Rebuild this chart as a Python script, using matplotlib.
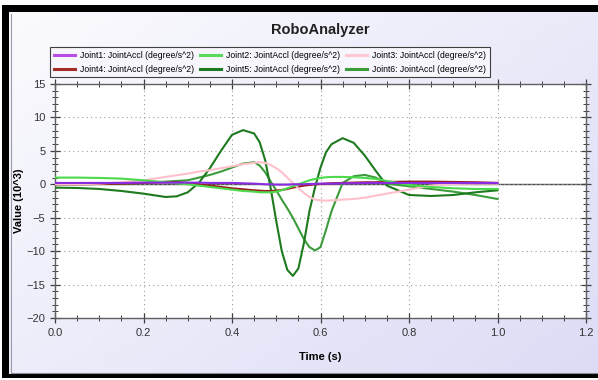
import numpy as np
import matplotlib
matplotlib.use('Agg')
import matplotlib.pyplot as plt
from matplotlib.lines import Line2D
from matplotlib.patches import Rectangle
from matplotlib.ticker import MultipleLocator, FormatStrFormatter

plt.rcParams['font.family'] = ['Liberation Sans Narrow', 'Liberation Sans', 'DejaVu Sans']

# time samples (s)
time = [0.0, 0.05, 0.1, 0.15, 0.2, 0.25, 0.275, 0.3,
        0.325, 0.35, 0.375, 0.4, 0.425, 0.45,
        0.4625, 0.475, 0.4875, 0.5, 0.5125, 0.525, 0.5375, 0.55,
        0.5625, 0.575, 0.5875, 0.6, 0.6125, 0.625,
        0.65, 0.675, 0.7, 0.725, 0.75,
        0.8, 0.85, 0.9, 0.95, 1.0]

# joint accelerations (10^3 degree/s^2)
joint1 = [0.2, 0.2, 0.2, 0.2, 0.25, 0.25, 0.25, 0.25,
          0.25, 0.2, 0.2, 0.2, 0.15, 0.1,
          0.05, 0.0, 0.0, -0.05, -0.05, -0.05, 0.0, 0.0,
          0.0, 0.05, 0.05, 0.1, 0.1, 0.1,
          0.15, 0.15, 0.2, 0.2, 0.2,
          0.2, 0.2, 0.2, 0.2, 0.2]
joint2 = [1.0, 1.0, 0.95, 0.85, 0.6, 0.3, 0.15, 0.0,
          -0.2, -0.4, -0.6, -0.8, -1.0, -1.1,
          -1.2, -1.2, -1.2, -1.1, -0.9, -0.6, -0.3, 0.0,
          0.3, 0.6, 0.8, 0.95, 1.05, 1.1,
          1.1, 1.05, 0.95, 0.8, 0.5,
          -0.1, -0.4, -0.6, -0.7, -0.7]
joint3 = [0.0, 0.0, 0.1, 0.3, 0.6, 1.1, 1.35, 1.6,
          1.9, 2.1, 2.4, 2.7, 3.0, 3.2,
          3.3, 3.2, 2.9, 2.4, 1.8, 1.0, 0.2, -0.6,
          -1.3, -1.9, -2.3, -2.4, -2.45, -2.4,
          -2.3, -2.2, -2.0, -1.7, -1.4,
          -0.8, -0.2, 0.05, 0.1, 0.1]
joint4 = [0.0, 0.0, 0.05, 0.1, 0.2, 0.3, 0.3, 0.2,
          0.0, -0.2, -0.4, -0.6, -0.75, -0.9,
          -0.95, -1.0, -1.0, -0.95, -0.85, -0.7, -0.5, -0.35,
          -0.2, -0.1, 0.0, 0.05, 0.1, 0.15,
          0.2, 0.25, 0.3, 0.3, 0.35,
          0.4, 0.4, 0.35, 0.3, 0.2]
joint5 = [-0.5, -0.55, -0.7, -1.0, -1.4, -1.9, -1.8, -1.2,
          0.2, 2.4, 5.0, 7.4, 8.1, 7.6,
          6.3, 3.6, -0.6, -5.5, -10.0, -12.8, -13.7, -12.6,
          -8.8, -4.0, -0.5, 2.5, 4.8, 6.0,
          6.9, 6.2, 4.3, 2.0, -0.2,
          -1.6, -1.75, -1.6, -1.2, -0.9]
joint6 = [0.0, 0.0, 0.05, 0.1, 0.2, 0.4, 0.5, 0.6,
          1.0, 1.4, 1.9, 2.5, 3.1, 3.3,
          2.8, 1.8, 0.4, -0.9, -2.3, -3.6, -5.0, -6.6,
          -8.2, -9.4, -9.9, -9.4, -6.8, -4.0,
          0.2, 1.2, 1.4, 1.0, 0.1,
          -0.3, -0.7, -1.1, -1.6, -2.2]

series = [joint1, joint2, joint3, joint4, joint5, joint6]
labels = ['Joint%d: JointAccl (degree/s^2)' % (i + 1) for i in range(6)]
colors = ['#8a2be2', '#4cd94c', '#ffc0cb', '#9b1b1b', '#1e7a1e', '#3c9c3c']
legend_colors = ['#b84ee6', '#5ada5a', '#ffc8d2', '#a52a2a', '#1e7a1e', '#3c9c3c']

W, H = 598, 380
fig = plt.figure(figsize=(W / 100, H / 100), dpi=100)
fig.patch.set_facecolor('white')

# gradient background panel
bg = fig.add_axes([9 / W, 6 / H, (W - 9) / W, (H - 12 - 6) / H])
gx, gy = np.meshgrid(np.linspace(0, 1, 64), np.linspace(0, 1, 64))
grad = 0.55 * gx + 0.45 * gy
bg.imshow(grad, cmap=matplotlib.colors.LinearSegmentedColormap.from_list(
    'lav', ['#fbfbfe', '#dcdcf6']), aspect='auto', extent=[0, 1, 0, 1])
bg.set_axis_off()

# black frame
for x0, y0, w, h in [(2, 5, W - 2, 7), (2, 5, 7, 373), (2, 374, W - 2, 4)]:
    fig.add_artist(Rectangle((x0 / W, 1 - (y0 + h) / H), w / W, h / H,
                             transform=fig.transFigure, color='black', lw=0))
fig.add_artist(Line2D([11 / W, 11 / W], [1 - 14 / H, 1 - 372 / H],
                      transform=fig.transFigure, color='#9a9aa8', lw=0.8))
fig.add_artist(Line2D([11 / W, 1], [1 - 372.5 / H, 1 - 372.5 / H],
                      transform=fig.transFigure, color='#8a8a98', lw=0.8))

ax = fig.add_axes([55 / W, 1 - 318 / H, (586 - 55) / W, (318 - 84) / H])
ax.set_facecolor('white')

ax.axhline(0, color='#505050', lw=1.0, zorder=1)
# draw Joint6 first so Joint1 ends up on top
for i in range(5, -1, -1):
    ax.plot(time, series[i], color=colors[i], lw=1.5, zorder=2 + (6 - i))

ax.set_xlim(0, 1.2)
ax.set_ylim(-20, 15)
ax.xaxis.set_major_locator(MultipleLocator(0.2))
ax.xaxis.set_minor_locator(MultipleLocator(0.05))
ax.xaxis.set_major_formatter(FormatStrFormatter('%.1f'))
ax.yaxis.set_major_locator(MultipleLocator(5))
ax.yaxis.set_minor_locator(MultipleLocator(1))

ax.grid(True, which='major', linestyle=(0, (1, 3)), color='#9a9a9a', lw=0.8)
ax.tick_params(which='both', direction='inout', top=True, right=True,
               color='#404040', labelsize=8, labelcolor='#333333')
ax.tick_params(which='major', length=7, width=0.9)
ax.tick_params(which='minor', length=4, width=0.7)
for sp in ax.spines.values():
    sp.set_color('#606060')
    sp.set_linewidth(1.0)

ax.set_xlabel('Time (s)', fontsize=8, fontweight='bold', labelpad=10)
ax.set_ylabel('Value (10^3)', fontsize=8, fontweight='bold')
ax.yaxis.set_label_coords(-0.058, 0.5)

fig.text(320.5 / W, 1 - 30 / H, 'RoboAnalyzer', ha='center', va='center',
         fontsize=10.5, fontweight='bold', color='#202020')

# legend filled row by row: J1 J2 J3 / J4 J5 J6
order = [0, 3, 1, 4, 2, 5]
handles = [Line2D([], [], color=legend_colors[i], lw=2.2) for i in order]
leg = fig.legend(handles, [labels[i] for i in order], ncol=3,
                 loc='upper left', bbox_to_anchor=(50 / W, 1 - 47 / H),
                 fontsize=6.2, frameon=True, fancybox=False,
                 edgecolor='#404040', facecolor='#f6f6fc', framealpha=1,
                 handlelength=2.4, handletextpad=0.6, columnspacing=0.7,
                 borderpad=0.45, labelspacing=0.55, borderaxespad=0)
leg.get_frame().set_linewidth(0.8)

fig.savefig('out.png', dpi=100)
